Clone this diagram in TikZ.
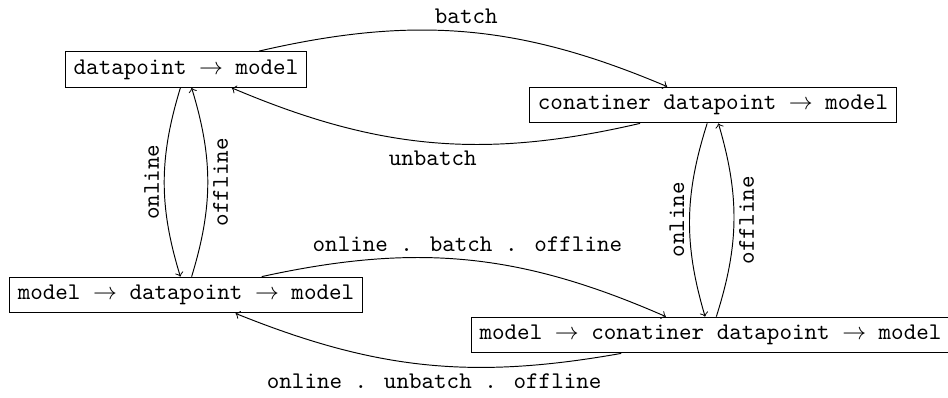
\documentclass[tikz,border=0pt]{standalone}
\begin{document}
\begin{tikzpicture}[x=0.4184pt, y=-0.4184pt,
  box/.style={draw, font=\ttfamily, inner sep=0.333em},
  lbl/.style={font=\ttfamily, inner sep=0.333em},
  vlbl/.style={lbl, inner sep=2pt, rotate=90},
  arr/.style={->}]
\useasboundingbox (0,0) rectangle (948,398);

\node[box] (dm)  at (186,69.5) {datapoint $\to$ model};
\node[box] (cdm) at (713,105)  {conatiner datapoint $\to$ model};
\node[box] (mdm) at (186,295)  {model $\to$ datapoint $\to$ model};
\node[box] (mcdm) at (710.5,335) {model $\to$ conatiner datapoint $\to$ model};

% batching between single and container datapoints
\draw[arr] (dm) to[bend left=18] node[lbl, midway, anchor=south] {batch} (cdm);
\draw[arr] (cdm) to[bend left=18] node[lbl, midway, anchor=north] {unbatch} (dm);

% online / offline on the left column
\draw[arr] (dm) to[bend right=17] node[vlbl, midway, anchor=south] {online} (mdm);
\draw[arr] (mdm) to[bend right=17] node[vlbl, midway, anchor=north] {offline} (dm);

% online / offline on the right column
\draw[arr] (cdm) to[bend right=17] node[vlbl, midway, anchor=south] {online} (mcdm);
\draw[arr] (mcdm) to[bend right=17] node[vlbl, midway, anchor=north] {offline} (cdm);

% composed transformations on the bottom row
\draw[arr] (mdm) to[bend left=18] node[lbl, midway, anchor=south] {online . batch . offline} (mcdm);
\draw[arr] (mcdm) to[bend left=16] node[lbl, pos=0.475, anchor=north] {online . unbatch . offline} (mdm);
\end{tikzpicture}
\end{document}
